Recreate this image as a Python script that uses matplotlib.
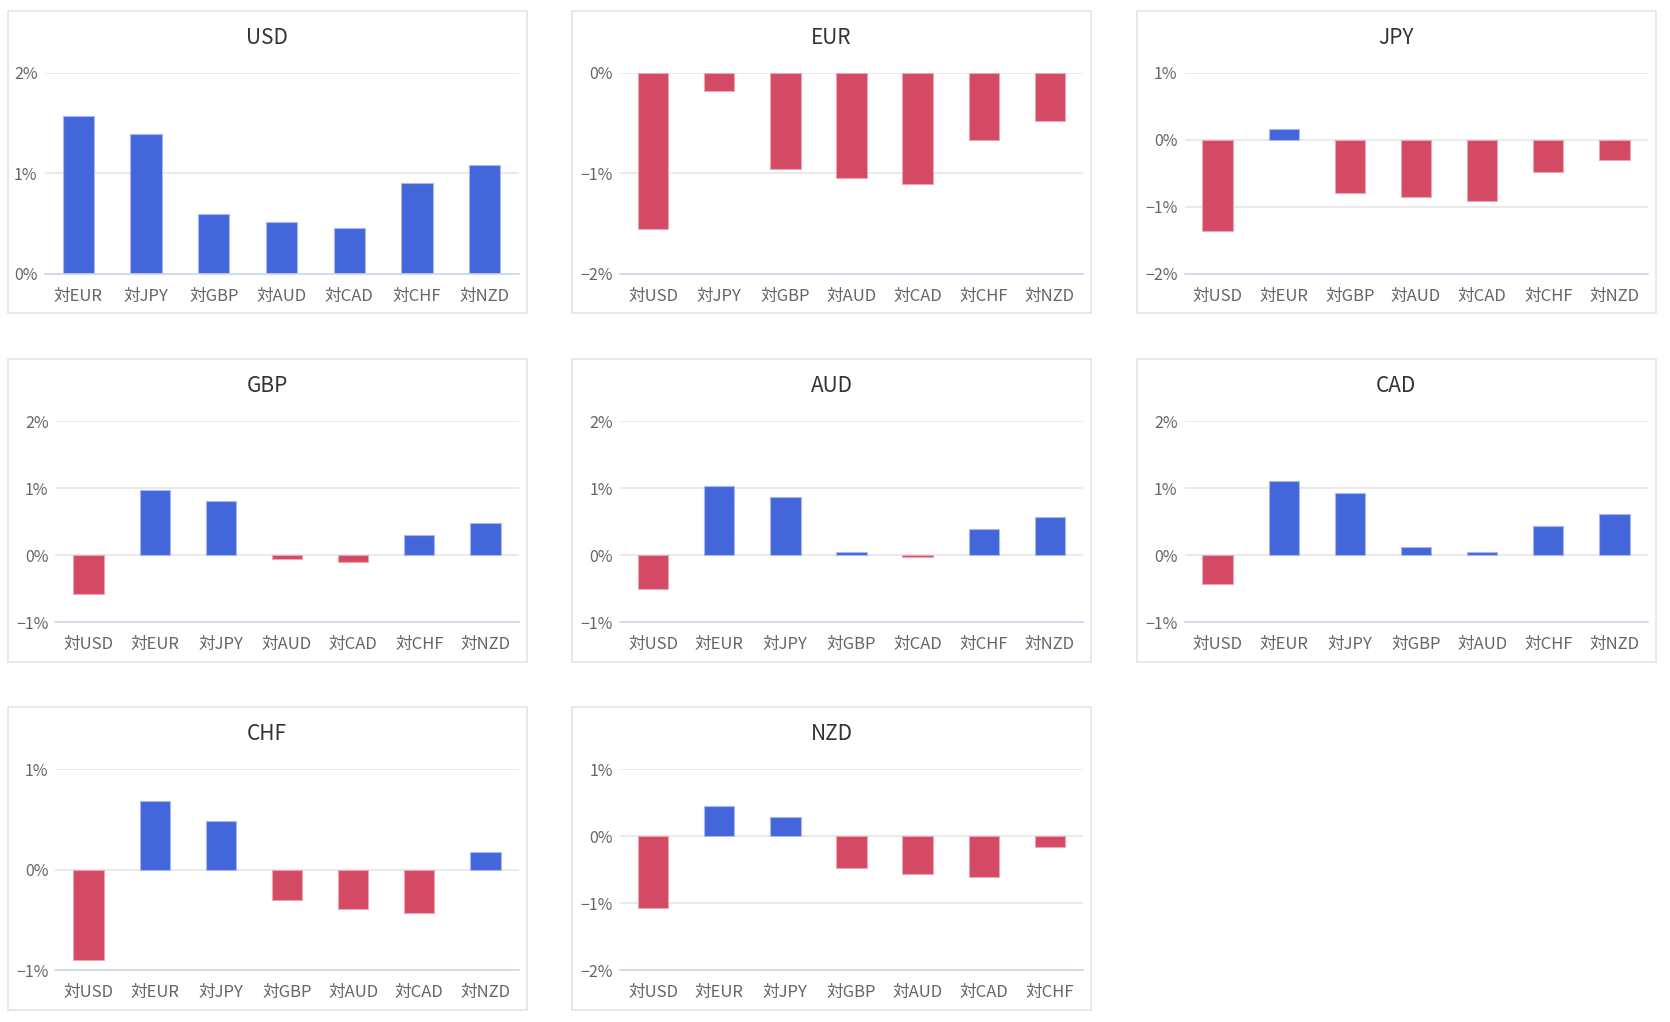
import matplotlib
matplotlib.use('Agg')
import matplotlib.pyplot as plt
from matplotlib.patches import Rectangle

plt.rcParams['font.family'] = ['Noto Sans CJK JP', 'DejaVu Sans']

currencies = ['USD', 'EUR', 'JPY', 'GBP', 'AUD', 'CAD', 'CHF', 'NZD']

# change (%) of each currency against the others
usd = [1.57, 1.39, 0.59, 0.51, 0.45, 0.90, 1.08]
eur = [-1.56, -0.18, -0.96, -1.05, -1.11, -0.67, -0.48]
jpy = [-1.37, 0.16, -0.79, -0.86, -0.91, -0.48, -0.30]
gbp = [-0.58, 0.97, 0.80, -0.06, -0.10, 0.30, 0.48]
aud = [-0.51, 1.03, 0.86, 0.05, -0.03, 0.39, 0.57]
cad = [-0.44, 1.10, 0.92, 0.12, 0.05, 0.43, 0.61]
chf = [-0.90, 0.68, 0.48, -0.30, -0.39, -0.43, 0.17]
nzd = [-1.08, 0.45, 0.28, -0.48, -0.57, -0.61, -0.17]
values = [usd, eur, jpy, gbp, aud, cad, chf, nzd]

# y-axis range (min, max) per panel
ranges = [(0, 2), (-2, 0), (-2, 1), (-1, 2), (-1, 2), (-1, 2), (-1, 1), (-2, 1)]

BLUE = '#4466db'
RED = '#d44a64'

W, H = 1670, 1022
fig = plt.figure(figsize=(W / 100, H / 100), dpi=100)
fig.patch.set_facecolor('white')

col_left = [7.5, 572, 1136.5]
row_top = [10.7, 359, 707]
pw, ph = 519, 302.5

for i, cur in enumerate(currencies):
    r, c = divmod(i, 3)
    pl, pt = col_left[c], row_top[r]
    # panel border
    fig.patches.append(Rectangle((pl / W, 1 - (pt + ph) / H), pw / W, ph / H,
                                 transform=fig.transFigure, fill=False,
                                 edgecolor='#e1e5e1', linewidth=1.2))
    lo, hi = ranges[i]
    ax_l = pl + (37 if lo >= 0 else 48)
    ax_r = pl + 511
    ax_t = pt + 62
    ax_b = pt + 263
    ax = fig.add_axes([ax_l / W, 1 - ax_b / H, (ax_r - ax_l) / W, (ax_b - ax_t) / H])

    cats = ['対' + x for x in currencies if x != cur]
    vals = values[i]
    colors = [BLUE if v >= 0 else RED for v in vals]
    edges = ['#a9b9f0' if v >= 0 else '#eca5b3' for v in vals]
    ax.bar(range(len(vals)), vals, width=0.46, color=colors,
           edgecolor=edges, linewidth=0.8, zorder=3)

    ax.set_xlim(-0.5, len(vals) - 0.5)
    ax.set_ylim(lo, hi)
    ticks = list(range(lo, hi + 1))
    ax.set_yticks(ticks)
    ax.set_yticklabels([f'{t}%'.replace('-', '\u2212') for t in ticks])
    ax.set_xticks(range(len(vals)))
    ax.set_xticklabels(cats)
    ax.tick_params(axis='y', length=0, pad=5, labelsize=11.5, labelcolor='#666666')
    ax.tick_params(axis='x', length=0, pad=10, labelsize=12, labelcolor='#666666')
    for s in ['top', 'right', 'left']:
        ax.spines[s].set_visible(False)
    ax.spines['bottom'].set_color('#ccd6eb')
    ax.spines['bottom'].set_linewidth(1.2)
    ax.spines['bottom'].set_zorder(4)
    ax.yaxis.grid(True, color='#e6e6e6', linewidth=1.2)
    ax.set_axisbelow(True)
    ax.patch.set_alpha(0)

    fig.text((pl + pw / 2) / W, 1 - (pt + 27) / H, cur, ha='center', va='center',
             fontsize=15, color='#333333')

fig.savefig('out.png', dpi=100, facecolor='white')
